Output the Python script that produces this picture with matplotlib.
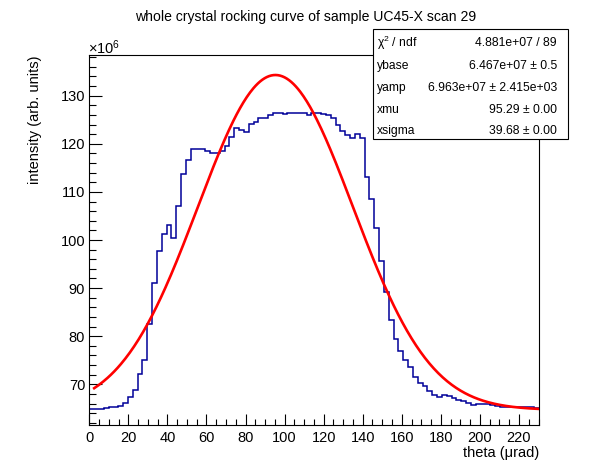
import numpy as np
import matplotlib
matplotlib.use("Agg")
import matplotlib.pyplot as plt
from matplotlib.patches import Rectangle
from matplotlib.ticker import MultipleLocator

plt.rcParams["font.family"] = ["Liberation Sans", "DejaVu Sans"]
plt.rcParams["mathtext.fontset"] = "custom"
plt.rcParams["mathtext.rm"] = "Liberation Sans"
plt.rcParams["mathtext.it"] = "Liberation Sans:italic"

# histogram contents (units of 1e6), 93 bins over theta 0..230 urad
x_range = (0.0, 230.0)
counts = [
    64.80, 64.80, 64.80, 65.01, 65.22, 65.35, 65.49, 66.18, 67.29, 68.75,
    72.07, 74.98, 82.60, 90.99, 97.64, 101.18, 103.05, 100.35, 107.00, 113.65,
    116.56, 118.85, 118.85, 118.85, 118.60, 118.05, 118.05, 118.60, 119.50, 121.35,
    123.20, 122.80, 122.40, 124.10, 124.55, 125.30, 125.30, 126.00, 126.34, 126.34,
    126.10, 126.34, 126.34, 126.34, 126.34, 126.06, 126.34, 126.34, 126.20, 125.90,
    125.30, 123.90, 122.66, 121.83, 121.27, 122.04, 121.27, 113.04, 108.46, 102.50,
    95.57, 89.10, 83.37, 79.42, 76.99, 75.05, 73.60, 71.50, 70.25, 69.65,
    68.60, 67.71, 67.30, 67.71, 67.57, 67.15, 66.74, 66.53, 66.05, 65.63,
    65.84, 65.84, 65.84, 65.60, 65.45, 65.35, 65.22, 65.22, 65.22, 65.22,
    65.22, 65.22, 65.01,
]

# fit result shown in the stats box
ybase = 6.467e7
yamp = 6.963e7
xmu = 95.29
xsigma = 39.68
fit_start = 2.5

stat_names = ["\u03c7$^{2}$ / ndf", "ybase", "yamp", "xmu", "xsigma"]
stat_values = ["4.881e+07 / 89", "6.467e+07 \u00b1 0.5",
               "6.963e+07 \u00b1 2.415e+03", "95.29 \u00b1 0.00",
               "39.68 \u00b1 0.00"]

W, H = 598, 474
fig = plt.figure(figsize=(W / 100, H / 100), dpi=100)
ax = fig.add_axes([89.3 / W, 1 - 425 / H, 449.2 / W, 370 / H])

edges = np.linspace(x_range[0], x_range[1], len(counts) + 1)
ax.stairs(np.array(counts), edges, baseline=None, color="#000099", lw=1.1)

xf = np.linspace(fit_start, x_range[1], 400)
yf = (ybase + yamp * np.exp(-0.5 * ((xf - xmu) / xsigma) ** 2)) / 1e6
ax.plot(xf, yf, color="red", lw=1.9)

ax.set_xlim(*x_range)
ax.set_ylim(61.54, 138.46)
ax.xaxis.set_major_locator(MultipleLocator(20))
ax.xaxis.set_minor_locator(MultipleLocator(5))
ax.yaxis.set_major_locator(MultipleLocator(10))
ax.yaxis.set_minor_locator(MultipleLocator(2))
ax.tick_params(axis="x", which="major", direction="in", length=7.9, width=0.8,
               labelsize=10.5, pad=4)
ax.tick_params(axis="x", which="minor", direction="in", length=4.0, width=0.8)
ax.tick_params(axis="y", which="major", direction="in", length=9.7, width=0.8,
               labelsize=10.5, pad=3)
ax.tick_params(axis="y", which="minor", direction="in", length=4.9, width=0.8)
for s in ax.spines.values():
    s.set_linewidth(0.8)

fig.text(305.5 / W, 1 - 17 / H,
         "whole crystal rocking curve of sample UC45-X scan 29",
         ha="center", va="center", fontsize=10.1)
fig.text(88 / W, 1 - 48 / H, "\u00d710$^{6}$", ha="left", va="center",
         fontsize=10.5)
fig.text(35 / W, 1 - 56 / H, "intensity (arb. units)", rotation=90,
         ha="center", va="top", fontsize=10.5)
fig.text(539 / W, 1 - 453 / H, "theta (\u03bcrad)", ha="right",
         va="center", fontsize=10.5)

# stats box
bx0, bx1, by0, by1 = 373, 568, 29, 139
fig.patches.append(Rectangle((bx0 / W, 1 - by1 / H), (bx1 - bx0) / W,
                             (by1 - by0) / H, transform=fig.transFigure,
                             facecolor="white", edgecolor="black", lw=0.8,
                             zorder=5))
rows_y = [43, 66, 88, 110, 131]
for name, val, ry in zip(stat_names, stat_values, rows_y):
    fig.text(377 / W, 1 - ry / H, name, ha="left", va="center",
             fontsize=8.7, zorder=6)
    fig.text(557 / W, 1 - ry / H, val, ha="right", va="center",
             fontsize=8.7, zorder=6)

fig.savefig("out.png", dpi=100)
